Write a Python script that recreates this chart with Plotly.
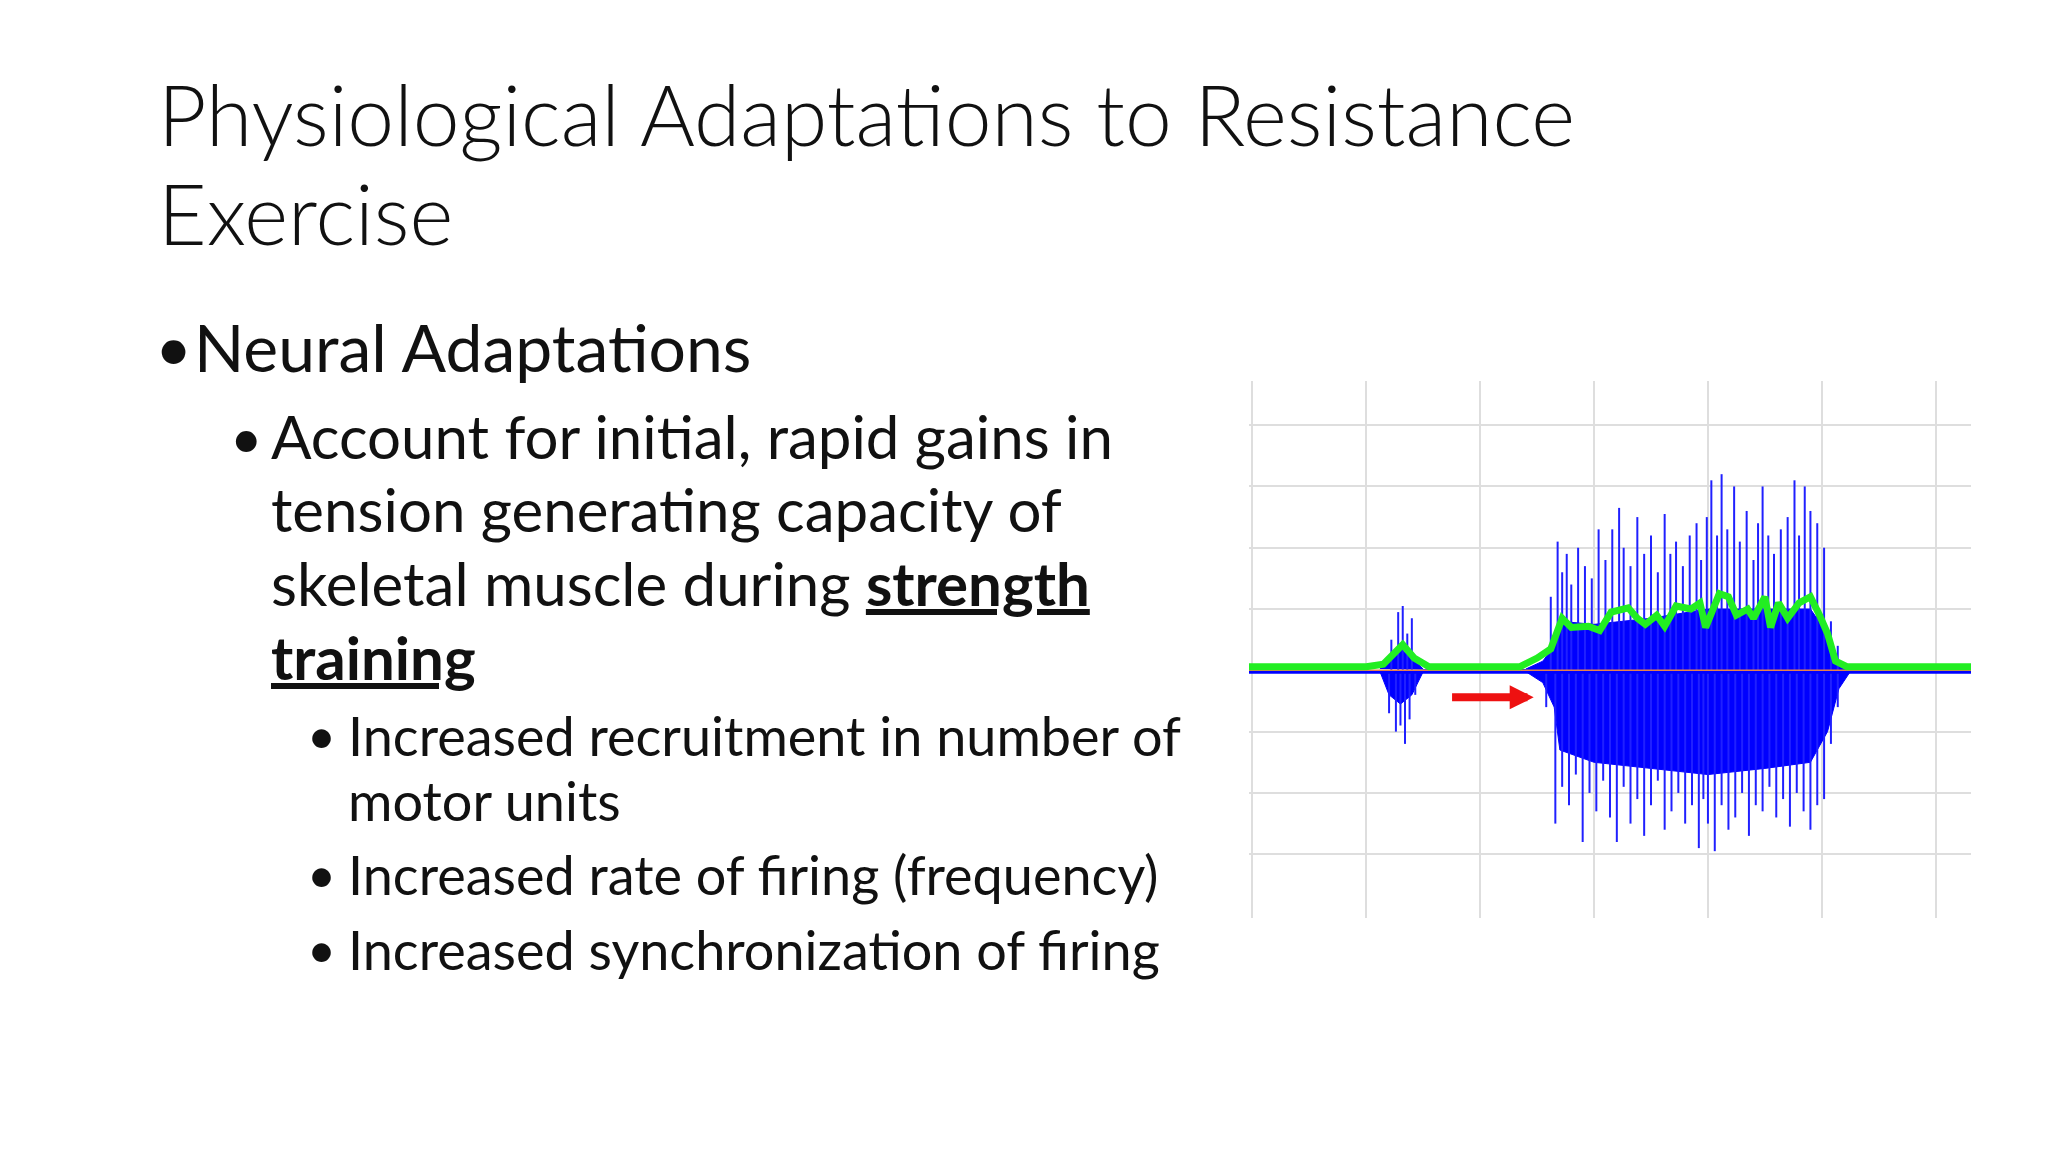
import plotly.graph_objects as go

# slide text
title_lines = ["Physiological Adaptations to Resistance", "Exercise"]
level1 = "Neural Adaptations"
level2 = ["Account for initial, rapid gains in", "tension generating capacity of",
          "skeletal muscle during <b><u>strength</u></b>", "<b><u>training</u></b>"]
level3 = ["Increased recruitment in number of", "motor units",
          "Increased rate of firing (frequency)", "Increased synchronization of firing"]
level3_bullet = [True, False, True, True]

# EMG spikes (x in grid units, amplitude in grid units)
up_x = [1.22, 1.28, 1.32, 1.36, 1.40, 2.62, 2.68, 2.72, 2.76, 2.80, 2.86, 2.92, 2.98, 3.04, 3.10, 3.16,
        3.22, 3.26, 3.32, 3.38, 3.44, 3.50, 3.56, 3.62, 3.67, 3.72, 3.78, 3.84, 3.90, 3.94, 3.99,
        4.03, 4.08, 4.12, 4.17, 4.23, 4.28, 4.34, 4.40, 4.44, 4.48, 4.53, 4.58, 4.64, 4.70, 4.76,
        4.80, 4.85, 4.90, 4.96, 5.02, 5.08, 5.14]
up_y = [0.5, 0.95, 1.05, 0.6, 0.85, 1.2, 2.1, 1.6, 1.9, 1.4, 2.0, 1.7, 1.5, 2.3, 1.8, 2.3,
        2.65, 2.0, 1.7, 2.5, 1.9, 2.2, 1.6, 2.55, 1.9, 2.1, 1.7, 2.2, 2.4, 1.8, 2.5,
        3.1, 2.2, 3.2, 2.3, 3.0, 2.1, 2.6, 1.8, 2.4, 3.0, 2.2, 1.9, 2.3, 2.5, 3.1,
        2.2, 3.0, 2.6, 2.4, 2.0, 0.8, 0.4]
lo_x = [1.20, 1.26, 1.30, 1.34, 1.38, 1.43, 2.58, 2.66, 2.72, 2.78, 2.84, 2.90, 2.96, 3.02, 3.08,
        3.14, 3.20, 3.26, 3.32, 3.38, 3.44, 3.50, 3.56, 3.62, 3.68, 3.74, 3.80, 3.86, 3.92, 3.96,
        4.00, 4.06, 4.12, 4.18, 4.24, 4.30, 4.36, 4.42, 4.48, 4.54, 4.60, 4.66, 4.72, 4.78, 4.84,
        4.90, 4.96, 5.02, 5.08, 5.14]
lo_y = [-0.7, -1.0, -0.9, -1.2, -0.8, -0.4, -0.6, -2.5, -1.9, -2.2, -1.7, -2.8, -2.0, -2.3, -1.8,
        -2.4, -2.8, -1.9, -2.5, -2.1, -2.7, -2.2, -1.8, -2.6, -2.3, -2.0, -2.5, -2.2, -2.9, -2.1,
        -2.5, -2.95, -2.2, -2.6, -2.4, -2.0, -2.7, -2.2, -2.3, -1.9, -2.4, -2.1, -2.55, -2.0, -2.3,
        -2.6, -2.2, -2.1, -1.2, -0.6]

# dense body of the bursts
env_x = [1.12, 1.2, 1.3, 1.4, 1.5, None, 2.4, 2.55, 2.65, 2.7, 3.0, 3.5, 4.0, 4.5, 4.9, 5.05, 5.15, 5.25]
env_up = [0.02, 0.2, 0.35, 0.2, 0.02, None, 0.02, 0.15, 0.4, 0.8, 0.75, 0.85, 1.0, 1.0, 1.0, 0.6, 0.15, 0.02]
env_lo = [-0.02, -0.4, -0.55, -0.4, -0.02, None, -0.02, -0.2, -0.6, -1.3, -1.5, -1.6, -1.7, -1.6, -1.5, -1.0, -0.3, -0.02]

# smoothed envelope (green)
green_x = [-0.03, 1.0, 1.15, 1.32, 1.42, 1.55, 2.35, 2.5, 2.62, 2.72, 2.8, 2.95, 3.05, 3.15, 3.3, 3.38,
           3.45, 3.55, 3.62, 3.72, 3.85, 3.93, 3.98, 4.1, 4.18, 4.25, 4.35, 4.4, 4.5, 4.55, 4.62,
           4.7, 4.8, 4.9, 4.98, 5.05, 5.12, 5.22, 6.31]
green_y = [0.06, 0.06, 0.1, 0.42, 0.2, 0.06, 0.06, 0.2, 0.35, 0.85, 0.7, 0.72, 0.65, 0.95, 1.02, 0.85,
           0.75, 0.9, 0.72, 1.05, 1.0, 1.1, 0.7, 1.25, 1.2, 0.9, 1.0, 0.85, 1.2, 0.7, 1.1,
           0.85, 1.1, 1.2, 0.9, 0.6, 0.15, 0.06, 0.06]


def segments(xs, ys):
    sx, sy = [], []
    for x, y in zip(xs, ys):
        sx += [x, x, None]
        sy += [0, y, None]
    return sx, sy


fig = go.Figure()
fig.add_trace(go.Scatter(x=env_x, y=env_lo, mode='lines', line=dict(color='#0000ff', width=1),
                         connectgaps=False))
fig.add_trace(go.Scatter(x=env_x, y=env_up, mode='lines', line=dict(color='#0000ff', width=1),
                         fill='tonexty', fillcolor='#0000ff', connectgaps=False))
ux, uy = segments(up_x, up_y)
lx, ly = segments(lo_x, lo_y)
fig.add_trace(go.Scatter(x=ux, y=uy, mode='lines', line=dict(color='#2020ff', width=2)))
fig.add_trace(go.Scatter(x=lx, y=ly, mode='lines', line=dict(color='#2020ff', width=2)))
fig.add_trace(go.Scatter(x=[-0.03, 6.31], y=[-0.03, -0.03], mode='lines',
                         line=dict(color='#0000ff', width=3)))
fig.add_trace(go.Scatter(x=[-0.03, 6.31], y=[0, 0], mode='lines',
                         line=dict(color='#e8804a', width=1.5)))
fig.add_trace(go.Scatter(x=green_x, y=green_y, mode='lines',
                         line=dict(color='#22ee22', width=7)))

fig.add_annotation(x=2.47, y=-0.44, ax=1.74, ay=-0.44, xref='x', yref='y', axref='x', ayref='y',
                   text='', showarrow=True, arrowhead=2, arrowsize=0.6, arrowwidth=8,
                   arrowcolor='#ee1111')

W, H = 2048, 1152


def text(px, py, s, size, weight=400):
    fig.add_annotation(x=px / W, y=1 - py / H, xref='paper', yref='paper', text=s, showarrow=False,
                       xanchor='left', yanchor='middle',
                       font=dict(family='Lato', size=size, color='#111111', weight=weight))


text(148, 106, title_lines[0], 84, 300)
text(148, 204, title_lines[1], 84, 300)
text(145, 338, '•', 64)
text(184, 338, level1, 66)
l2_y = [428, 501, 575, 649]
for i, line in enumerate(level2):
    if i == 0:
        text(220, l2_y[i], '•', 56)
    text(261, l2_y[i], line, 60)
l3_y = [727, 792, 866, 941]
for i, line in enumerate(level3):
    if level3_bullet[i]:
        text(297, l3_y[i], '•', 50)
    text(338, l3_y[i], line, 54)

fig.update_layout(
    width=W, height=H, margin=dict(l=0, r=0, t=0, b=0),
    paper_bgcolor='white', plot_bgcolor='white', showlegend=False,
    xaxis=dict(domain=[1241 / W, 1963 / W], range=[-0.03, 6.31], tickvals=[0, 1, 2, 3, 4, 5, 6],
               showticklabels=False, gridcolor='#dedede', gridwidth=2, zeroline=False),
    yaxis=dict(domain=[1 - 910 / H, 1 - 373 / H], range=[-4.04, 4.72],
               tickvals=[-3, -2, -1, 1, 2, 3, 4], showticklabels=False,
               gridcolor='#dedede', gridwidth=2, zeroline=False),
)

fig.write_html("out.html")
